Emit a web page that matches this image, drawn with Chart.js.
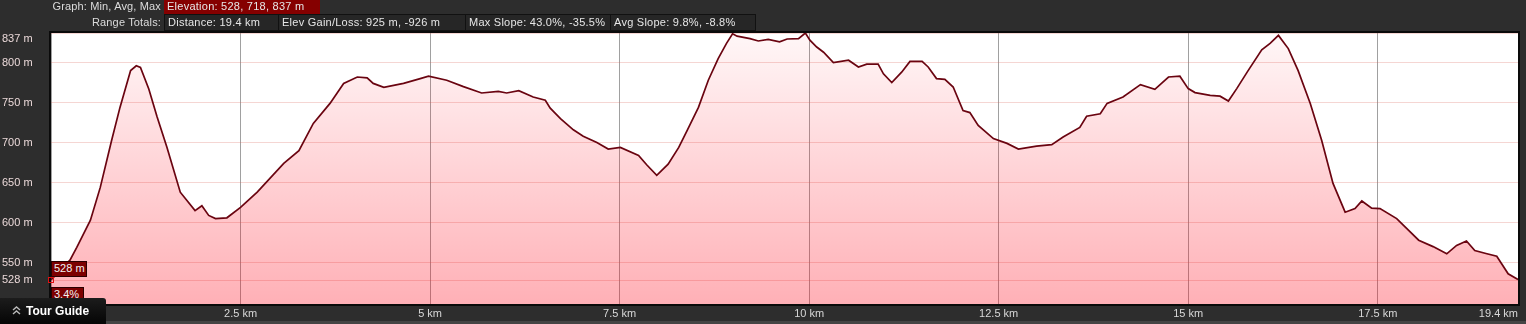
<!DOCTYPE html>
<html>
<head>
<meta charset="utf-8">
<title>Elevation profile</title>
<script src="https://cdn.jsdelivr.net/npm/chart.js@4.4.1/dist/chart.umd.min.js"></script>
<style>
    body { margin: 0; background: #2b2b2b; font-family: "Liberation Sans", Arial, sans-serif; }
    #wrap { position: relative; width: 1526px; height: 324px; overflow: hidden; background: #2d2d2d; }
    #profile { position: absolute; left: 0; top: 0; }
    .txt { position: absolute; font-size: 11px; color: #dcdcdc; white-space: nowrap; letter-spacing: 0.15px; }
    .lbl { right: 1365px; text-align: right; }
    .box { position: absolute; box-sizing: border-box; font-size: 11px; color: #e6e6e6; white-space: nowrap; padding-left: 3px; letter-spacing: 0.25px; }
    .row2 { top: 14px; height: 17px; line-height: 15px; background: #262626; border: 1px solid #111; }
    .tip { position: absolute; box-sizing: border-box; background: #7c0000; border: 1px solid #2a0000; color: #f2f2f2; font-size: 11px; line-height: 13px; padding-left: 2px; }
    #tour { position: absolute; left: 0; top: 298px; width: 106px; height: 26px; background: linear-gradient(#1c1c1c, #050505); border-top-right-radius: 3px; color: #fff; font-weight: bold; font-size: 12px; line-height: 26px; }
    #tour span { position: absolute; left: 26px; top: 0; }
    #tour svg { position: absolute; left: 12px; top: 8px; }
    #strip { position: absolute; left: 106px; top: 321px; width: 1420px; height: 3px; background: #444; }
</style>
</head>
<body>
<div id="wrap">
    <canvas id="profile" width="1526" height="324"></canvas>

    <div class="txt lbl" style="top:0; line-height:13px;">Graph: Min, Avg, Max</div>
    <div class="box" style="left:164px; top:0; width:156px; height:14px; line-height:13px; background:#850000;">Elevation: 528, 718, 837 m</div>

    <div class="txt lbl" style="top:15px; line-height:15px;">Range Totals:</div>
    <div class="box row2" style="left:164px; width:115px;">Distance: 19.4 km</div>
    <div class="box row2" style="left:278px; width:188px;">Elev Gain/Loss: 925 m, -926 m</div>
    <div class="box row2" style="left:465px; width:146px;">Max Slope: 43.0%, -35.5%</div>
    <div class="box row2" style="left:610px; width:146px;">Avg Slope: 9.8%, -8.8%</div>

    <div class="tip" style="left:51px; top:261px; width:36px; height:16px;">528 m</div>
    <div style="position:absolute; left:48px; top:277px; width:6px; height:6px; box-sizing:border-box; border:1px solid #e01010;"></div>
    <div class="tip" style="left:51px; top:287px; width:33px; height:14px;">3.4%</div>

    <div id="strip"></div>
    <div id="tour">
        <svg width="9" height="9" viewBox="0 0 9 9"><polyline points="1,4 4.5,1 8,4" fill="none" stroke="#bbb" stroke-width="1.4"/><polyline points="1,8 4.5,5 8,8" fill="none" stroke="#bbb" stroke-width="1.4"/></svg>
        <span>Tour Guide</span>
    </div>
</div>

<script>
// elevation profile
const distanceKm = [
    0.00, 0.25, 0.34, 0.52, 0.65, 0.80, 0.91, 1.05, 1.125, 1.18, 1.29, 1.40, 1.53, 1.705, 1.90, 1.99, 2.08, 2.17, 2.32,
    2.50, 2.72, 3.07, 3.27, 3.46, 3.68, 3.86, 4.04, 4.17, 4.25, 4.39, 4.65, 4.87, 4.98, 5.22, 5.44, 5.68, 5.90, 6.01,
    6.17, 6.36, 6.52, 6.585, 6.72, 6.89, 7.02, 7.20, 7.35, 7.51, 7.75, 7.86, 7.99, 8.14, 8.28, 8.39, 8.54, 8.67, 8.80,
    8.91, 8.99, 9.05, 9.22, 9.33, 9.46, 9.61, 9.71, 9.86, 9.95, 10.01, 10.10, 10.19, 10.32, 10.52, 10.65, 10.76, 10.91,
    10.98, 11.09, 11.22, 11.33, 11.49, 11.57, 11.68, 11.79, 11.90, 12.03, 12.12, 12.23, 12.43, 12.61, 12.76, 13.00,
    13.20, 13.35, 13.57, 13.66, 13.84, 13.93, 14.14, 14.37, 14.56, 14.74, 14.89, 15.00, 15.09, 15.29, 15.42, 15.53,
    15.64, 15.79, 15.97, 16.08, 16.19, 16.32, 16.45, 16.61, 16.76, 16.91, 17.07, 17.20, 17.29, 17.42, 17.53, 17.75,
    18.04, 18.23, 18.41, 18.54, 18.67, 18.78, 18.94, 19.07, 19.22, 19.35
];
const elevationM = [
    528.5, 553, 569, 603, 644, 703, 744, 790, 796, 794, 767, 732, 694, 638, 615, 621, 609, 605, 606,
    619, 638, 674, 690, 724, 749, 774, 782, 781, 774, 769, 774, 780, 783, 778, 770, 762, 764, 762,
    765, 757, 753, 743, 730, 716, 708, 700, 692, 694, 684, 672, 659, 673, 694, 715, 744, 778, 805,
    824, 836, 833, 830, 827, 829, 826, 829.5, 830, 837, 828, 819.5, 813, 800, 803, 794.5, 798, 798,
    786, 775, 788, 801.5, 801.5, 794.5, 780, 779, 769.5, 740, 737.5, 721.5, 705, 699, 692, 695.5,
    697.5, 707, 719, 733, 736, 749, 757, 772.5, 766.5, 782, 783, 767.5, 762.5, 759, 758, 752,
    767.5, 790, 816, 824, 834, 817.5, 790, 749, 703, 649, 613, 617.5, 627, 618, 617.5, 605,
    578, 570, 561, 571.5, 577, 565, 561, 558, 536, 529
];

const xTicks = [0, 2.5, 5, 7.5, 10, 12.5, 15, 17.5, 19.35];
const xTickLabels = ['', '2.5 km', '5 km', '7.5 km', '10 km', '12.5 km', '15 km', '17.5 km', '19.4 km'];
const yTicks = [528, 550, 600, 650, 700, 750, 800, 837];

const fontFamily = '"Liberation Sans", Arial, sans-serif';

// white plot area behind everything
const plotBg = {
    id: 'plotBg',
    beforeDraw(chart) {
        const a = chart.chartArea;
        const c = chart.ctx;
        c.save();
        c.fillStyle = '#ffffff';
        c.fillRect(a.left, a.top, a.right - a.left, a.bottom - a.top);
        c.restore();
    }
};

// black frame round the plot
const plotFrame = {
    id: 'plotFrame',
    afterDraw(chart) {
        const a = chart.chartArea;
        const c = chart.ctx;
        c.save();
        c.strokeStyle = '#0a0a0a';
        c.lineWidth = 2;
        c.strokeRect(a.left - 1, a.top - 1, a.right - a.left + 2, a.bottom - a.top + 2);
        c.restore();
    }
};

const points = distanceKm.map((d, i) => ({ x: d, y: elevationM[i] }));

new Chart(document.getElementById('profile'), {
    type: 'line',
    data: {
        datasets: [{
            data: points,
            borderColor: '#6a0410',
            borderWidth: 1.7,
            pointRadius: 0,
            tension: 0,
            fill: 'start',
            backgroundColor: function(context) {
                const area = context.chart.chartArea;
                if (!area) return 'rgba(255, 0, 20, 0.15)';
                const g = context.chart.ctx.createLinearGradient(0, area.top, 0, area.bottom);
                g.addColorStop(0, 'rgba(255, 0, 20, 0.03)');
                g.addColorStop(1, 'rgba(255, 0, 20, 0.31)');
                return g;
            }
        }]
    },
    options: {
        responsive: false,
        animation: false,
        layout: { padding: { top: 33, right: 8, left: 2, bottom: 0 } },
        plugins: {
            legend: { display: false },
            tooltip: { enabled: false }
        },
        scales: {
            x: {
                type: 'linear',
                min: 0,
                max: 19.35,
                afterBuildTicks: scale => { scale.ticks = xTicks.map(v => ({ value: v })); },
                afterFit: scale => { scale.height = 20; },
                border: { display: false },
                grid: { color: '#a0a0a0', drawTicks: false },
                ticks: {
                    autoSkip: false,
                    maxRotation: 0,
                    align: 'inner',
                    padding: 3,
                    color: '#d8d8d8',
                    font: { size: 11, family: fontFamily },
                    callback: (value, index) => xTickLabels[index]
                }
            },
            y: {
                min: 498.25,
                max: 837,
                afterBuildTicks: scale => { scale.ticks = yTicks.map(v => ({ value: v })); },
                afterFit: scale => { scale.width = 49; },
                border: { display: false },
                grid: { color: 'rgba(215, 90, 80, 0.25)', drawTicks: false },
                ticks: {
                    crossAlign: 'far',
                    color: '#ead8d8',
                    font: { size: 11, family: fontFamily, lineHeight: 1.15 },
                    // the top label sits just below the frame, as in the picture
                    callback: value => value === 837 ? ['', value + ' m'] : value + ' m'
                }
            }
        }
    },
    plugins: [plotBg, plotFrame]
});
</script>
</body>
</html>
